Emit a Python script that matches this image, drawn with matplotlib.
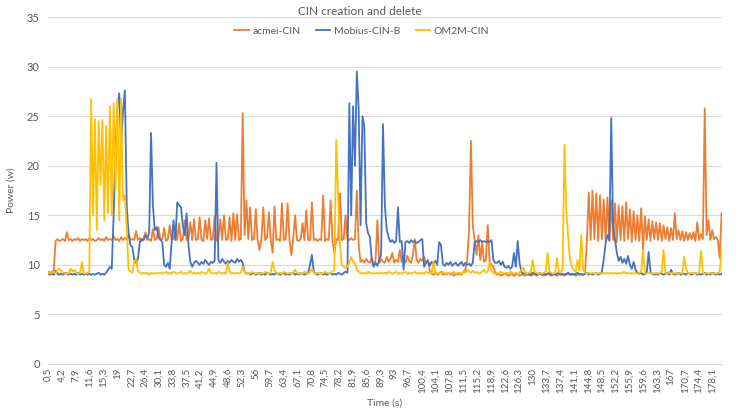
import numpy as np
import matplotlib
matplotlib.use("Agg")
import matplotlib.pyplot as plt

# power (w), one sample every 0.5 s starting at 0.5 s (one row = 10 s)
acmei_cin = [
    9.3, 9.2, 9.3, 9.4, 12.4, 12.6, 12.4, 12.5, 12.6, 12.4, 13.3, 12.5, 12.6, 12.4, 12.6, 12.5, 12.7, 12.4, 12.6, 12.5,
    12.6, 12.4, 12.7, 12.5, 12.6, 12.4, 12.5, 12.7, 12.5, 12.6, 12.4, 12.8, 12.5, 12.6, 12.5, 12.9, 12.5, 12.6, 12.4, 12.8,
    12.5, 12.7, 12.6, 13.2, 12.5, 12.6, 12.5, 13.4, 12.5, 12.7, 12.4, 12.6, 13.3, 12.5, 12.6, 12.4, 13.6, 12.5, 12.6, 13.8,
    12.5, 12.6, 13.7, 12.4, 12.6, 14.0, 12.5, 12.6, 13.8, 12.5, 14.2, 12.4, 12.6, 14.5, 12.5, 12.6, 14.3, 12.5, 14.6, 12.5,
    12.6, 14.8, 12.5, 12.4, 14.5, 12.6, 14.7, 12.5, 12.6, 14.9, 12.4, 12.6, 14.6, 12.5, 15.0, 12.5, 12.6, 14.8, 12.4, 15.2,
    12.5, 15.1, 12.5, 12.6, 25.3, 13.0, 16.5, 12.6, 15.8, 12.5, 12.6, 15.6, 12.5, 11.5, 12.6, 15.8, 12.5, 12.7, 15.3, 12.5,
    11.2, 15.9, 12.5, 12.6, 12.4, 16.2, 12.5, 12.6, 16.2, 12.5, 11.0, 12.6, 15.0, 12.5, 12.4, 12.6, 14.2, 12.5, 15.5, 12.5,
    12.5, 16.3, 12.5, 12.6, 12.4, 12.6, 12.5, 17.0, 12.4, 12.6, 12.5, 16.5, 12.4, 11.2, 12.6, 12.5, 17.2, 12.5, 12.6, 15.0,
    12.6, 12.5, 12.7, 12.5, 12.6, 17.5, 12.0, 10.3, 10.5, 10.2, 10.6, 10.3, 10.2, 10.7, 10.1, 10.4, 14.5, 10.2, 10.6, 10.3,
    10.2, 10.8, 10.3, 10.6, 11.2, 10.2, 10.5, 10.3, 11.5, 10.3, 10.6, 10.2, 10.9, 10.4, 10.2, 11.0, 12.6, 10.5, 10.2, 10.6,
    10.4, 10.8, 10.2, 10.5, 9.4, 9.1, 9.0, 9.2, 9.0, 9.1, 9.3, 9.0, 9.1, 9.0, 9.2, 9.0, 9.1, 8.9, 9.1, 9.0,
    9.1, 9.0, 9.3, 9.5, 10.5, 13.5, 22.5, 14.0, 12.5, 11.0, 13.0, 10.5, 12.3, 10.3, 10.5, 14.0, 10.3, 10.0, 9.8, 9.2,
    9.0, 9.1, 8.9, 9.0, 9.1, 9.0, 8.9, 9.0, 9.1, 8.9, 9.0, 9.1, 8.9, 9.0, 9.0, 8.9, 9.1, 9.0, 8.9, 9.0,
    9.1, 8.9, 9.0, 9.1, 9.0, 8.9, 9.0, 9.1, 9.0, 8.9, 9.0, 9.1, 8.9, 9.0, 9.1, 9.0, 8.9, 9.0, 9.1, 9.0,
    9.0, 9.1, 8.9, 9.0, 9.1, 9.0, 9.0, 9.1, 12.5, 17.3, 12.5, 17.5, 12.6, 17.2, 12.4, 17.0, 12.6, 16.6, 12.5, 16.8,
    12.4, 16.5, 12.5, 16.2, 12.3, 16.0, 12.5, 15.9, 12.4, 16.3, 12.6, 15.6, 12.3, 15.4, 12.5, 15.0, 12.4, 15.7, 11.6, 14.9,
    12.5, 14.6, 12.4, 14.4, 12.6, 14.3, 12.5, 14.2, 12.4, 14.0, 12.6, 13.8, 12.4, 13.7, 12.5, 15.2, 12.6, 13.5, 12.5, 13.4,
    12.4, 13.3, 12.5, 13.2, 12.6, 13.3, 12.4, 14.3, 12.5, 13.1, 12.6, 25.8, 13.0, 14.5, 12.5, 13.5, 12.6, 12.8, 12.5, 10.7,
    15.2,
]

mobius_cin_b = [
    9.1, 9.0, 9.1, 9.0, 9.4, 9.1, 9.0, 9.1, 9.0, 9.2, 9.1, 9.0, 9.1, 9.0, 9.1, 9.0, 9.2, 9.0, 9.1, 9.0,
    9.1, 9.0, 9.1, 9.0, 9.1, 9.0, 9.1, 9.2, 9.0, 9.1, 9.0, 9.2, 9.5, 9.8, 9.6, 15.0, 21.5, 26.0, 27.3, 22.0,
    25.5, 27.6, 16.0, 13.0, 12.0, 11.8, 10.5, 10.2, 10.6, 12.3, 12.6, 12.5, 13.0, 12.7, 13.2, 23.3, 16.0, 13.5, 13.8, 12.8,
    12.5, 12.3, 10.0, 9.8, 10.2, 9.6, 12.3, 14.5, 12.5, 16.3, 16.0, 15.8, 14.0, 13.0, 15.2, 12.0, 10.3, 9.8, 10.2, 10.4,
    10.2, 10.0, 10.3, 10.1, 10.5, 10.2, 10.0, 10.3, 10.2, 10.4, 20.3, 10.5, 10.2, 10.6, 10.3, 10.1, 10.4, 10.2, 10.5, 10.3,
    10.2, 10.6, 10.3, 10.5, 10.2, 9.3, 9.1, 9.2, 9.0, 9.1, 9.2, 9.0, 9.1, 9.2, 9.0, 9.1, 9.0, 9.2, 9.1, 9.0,
    9.1, 9.0, 9.2, 9.1, 9.0, 9.1, 9.2, 9.0, 9.1, 9.0, 9.1, 9.2, 9.0, 9.1, 9.0, 9.2, 9.1, 9.0, 9.1, 9.2,
    10.0, 11.0, 9.3, 9.1, 9.0, 9.1, 9.2, 9.0, 9.1, 9.0, 9.1, 9.2, 9.0, 9.1, 9.0, 9.2, 9.1, 9.0, 9.2, 9.3,
    9.2, 26.3, 15.0, 26.0, 20.0, 29.5, 25.8, 14.0, 25.0, 24.0, 14.2, 13.2, 12.8, 10.5, 9.8, 10.2, 9.9, 10.5, 11.0, 24.2,
    16.0, 13.5, 12.8, 12.3, 12.5, 12.2, 12.4, 15.8, 12.3, 12.4, 9.5, 12.3, 12.4, 12.2, 12.5, 12.3, 12.4, 12.2, 12.3, 12.5,
    12.6, 9.8, 10.2, 10.4, 9.9, 10.3, 10.1, 10.4, 10.0, 12.3, 12.0, 10.1, 9.9, 10.2, 10.0, 10.3, 9.9, 10.1, 10.2, 9.9,
    10.1, 10.3, 9.9, 10.2, 10.0, 10.1, 9.9, 10.2, 12.3, 12.4, 12.3, 12.5, 12.3, 12.4, 12.3, 12.4, 12.3, 12.5, 10.5, 10.2,
    10.2, 10.4, 10.0, 10.3, 9.8, 9.7, 9.9, 9.6, 9.8, 11.2, 9.8, 12.4, 10.2, 9.3, 9.1, 9.2, 9.0, 9.1, 9.0, 9.2,
    9.1, 9.0, 9.1, 9.2, 9.0, 9.1, 9.0, 9.1, 9.2, 9.0, 9.1, 9.0, 9.1, 9.2, 9.0, 9.1, 9.0, 9.1, 9.2, 9.0,
    9.1, 9.0, 9.1, 9.2, 9.0, 9.1, 9.0, 9.1, 9.2, 9.0, 9.1, 9.0, 9.1, 9.2, 9.0, 9.1, 9.3, 10.5, 12.2, 13.0,
    12.5, 24.8, 14.0, 12.6, 11.2, 10.4, 10.8, 10.2, 10.6, 10.1, 10.9, 10.0, 9.6, 10.3, 9.5, 9.2, 9.1, 9.2, 9.0, 9.1,
    9.2, 11.3, 9.3, 9.1, 9.0, 9.1, 9.0, 9.2, 9.1, 9.0, 9.1, 9.2, 9.0, 9.5, 9.1, 9.0, 9.1, 9.2, 9.0, 9.1,
    9.1, 9.0, 9.2, 9.1, 9.0, 9.1, 9.2, 9.0, 9.1, 9.0, 9.1, 9.2, 9.0, 9.1, 9.0, 9.2, 9.1, 9.0, 9.1, 9.0,
    9.1,
]

om2m_cin = [
    9.2, 9.1, 9.2, 9.3, 9.1, 9.5, 9.6, 9.4, 9.2, 9.1, 9.2, 9.1, 9.6, 9.3, 9.5, 9.2, 9.1, 9.2, 10.3, 9.2,
    9.1, 9.2, 9.3, 26.7, 15.0, 24.7, 13.5, 24.5, 18.0, 24.6, 14.5, 24.0, 15.2, 26.0, 15.0, 26.3, 17.5, 26.7, 14.5, 26.8,
    16.5, 17.0, 13.8, 9.5, 9.3, 9.2, 10.3, 10.6, 9.4, 9.2, 9.1, 9.2, 9.1, 9.2, 9.0, 9.2, 9.1, 9.2, 9.1, 9.2,
    9.2, 9.1, 9.2, 9.3, 9.1, 9.2, 9.1, 9.3, 9.2, 9.1, 9.2, 9.3, 9.1, 9.2, 9.1, 9.2, 9.4, 9.1, 9.2, 9.1,
    9.2, 9.1, 9.3, 9.2, 9.1, 9.2, 9.6, 9.2, 9.1, 9.2, 9.1, 9.3, 9.2, 9.1, 9.2, 9.1, 10.2, 9.3, 9.1, 9.2,
    9.1, 9.2, 9.1, 9.2, 9.8, 9.3, 9.1, 9.2, 9.1, 9.3, 9.2, 9.1, 9.2, 9.1, 9.2, 9.1, 9.3, 9.2, 9.1, 9.2,
    10.3, 9.4, 9.2, 9.1, 9.2, 9.1, 9.3, 9.2, 9.1, 9.2, 9.1, 9.2, 9.5, 9.2, 9.1, 9.2, 9.1, 9.3, 9.2, 9.1,
    9.2, 9.6, 9.2, 9.1, 9.2, 9.1, 9.2, 9.1, 9.3, 9.2, 9.1, 9.2, 9.3, 9.5, 22.6, 17.0, 12.0, 10.0, 9.8, 9.7,
    9.8, 10.2, 10.8, 10.3, 10.2, 9.5, 9.3, 9.2, 9.1, 9.2, 9.1, 9.3, 9.2, 9.1, 9.2, 9.1, 9.2, 9.1, 9.2, 9.1,
    9.2, 9.1, 9.3, 9.2, 9.1, 9.2, 9.3, 9.1, 9.2, 9.1, 9.2, 9.3, 9.1, 9.2, 9.1, 9.2, 9.3, 9.1, 9.2, 9.1,
    9.2, 9.1, 9.3, 9.2, 9.1, 9.2, 10.3, 9.2, 9.1, 9.2, 9.1, 9.3, 9.2, 9.1, 9.2, 9.1, 9.2, 9.3, 9.1, 9.2,
    9.2, 9.1, 9.3, 9.2, 9.5, 9.3, 9.2, 9.4, 9.2, 9.3, 9.1, 9.2, 9.3, 9.5, 9.2, 9.3, 10.3, 9.4, 9.2, 9.1,
    9.2, 9.1, 9.3, 9.2, 9.1, 9.2, 9.1, 9.3, 9.2, 9.1, 9.2, 9.1, 9.2, 9.5, 9.7, 9.2, 9.1, 9.2, 9.3, 10.5,
    9.3, 9.2, 9.1, 9.2, 9.1, 9.2, 9.3, 11.2, 9.3, 9.2, 9.1, 9.2, 10.7, 9.3, 9.2, 9.6, 22.1, 15.5, 12.8, 10.5,
    9.8, 9.5, 9.3, 10.5, 9.4, 13.0, 9.5, 9.2, 9.1, 9.2, 9.1, 9.2, 9.1, 9.2, 9.1, 9.2, 9.1, 9.2, 9.1, 9.2,
    9.1, 9.2, 9.1, 9.2, 9.1, 9.2, 9.1, 9.2, 9.3, 9.1, 9.2, 9.1, 9.2, 9.1, 9.2, 9.1, 9.2, 9.3, 11.5, 9.2,
    9.1, 9.2, 9.1, 9.2, 9.1, 9.2, 9.1, 9.2, 9.3, 11.5, 9.2, 9.1, 9.2, 9.1, 9.2, 9.1, 9.2, 9.1, 9.2, 9.1,
    10.8, 9.6, 9.2, 9.1, 9.2, 9.1, 9.2, 9.1, 9.2, 11.4, 9.2, 9.1, 9.2, 9.1, 9.2, 9.1, 9.2, 9.1, 9.2, 9.3,
    11.5,
]

tick_labels = ["0,5", "4,2", "7,9", "11,6", "15,3", "19", "22,7", "26,4", "30,1", "33,8", "37,5", "41,2",
               "44,9", "48,6", "52,3", "56", "59,7", "63,4", "67,1", "70,8", "74,5", "78,2", "81,9", "85,6",
               "89,3", "93", "96,7", "100,4", "104,1", "107,8", "111,5", "115,2", "118,9", "122,6", "126,3",
               "130", "133,7", "137,4", "141,1", "144,8", "148,5", "152,2", "155,9", "159,6", "163,3", "167",
               "170,7", "174,4", "178,1"]

time_s = 0.5 + 0.5 * np.arange(len(acmei_cin))
tick_pos = [float(s.replace(",", ".")) for s in tick_labels]

plt.rcParams['font.family'] = ['Lato', 'DejaVu Sans']
grey = '#595959'

fig = plt.figure(figsize=(7.38, 4.15), dpi=100)
ax = fig.add_axes([0.065, 0.123, 0.913, 0.836])

ax.plot(time_s, acmei_cin, color='#ED7D31', lw=1.3, label='acmei-CIN')
ax.plot(time_s, mobius_cin_b, color='#4472C4', lw=1.3, label='Mobius-CIN-B')
ax.plot(time_s, om2m_cin, color='#FFC000', lw=1.3, label='OM2M-CIN')

ax.set_xlim(0.45, 180.55)
ax.set_ylim(0, 35)
ax.set_yticks(range(0, 36, 5))
ax.set_xticks(tick_pos)
ax.set_xticklabels(tick_labels, rotation=90, fontsize=7, color=grey)
ax.tick_params(axis='y', labelsize=8, colors=grey, length=0, pad=6)
ax.tick_params(axis='x', length=0, pad=3)
ax.grid(axis='y', color='#D9D9D9', lw=0.8)
ax.set_axisbelow(True)
for side in ['top', 'right', 'left']:
    ax.spines[side].set_visible(False)
ax.spines['bottom'].set_color('#D9D9D9')

ax.set_xlabel('Time (s)', fontsize=7.5, color=grey, labelpad=4)
ax.set_ylabel('Power (w)', fontsize=7.5, color=grey, labelpad=8)

fig.text(0.487, 0.972, 'CIN creation and delete', ha='center', va='center', fontsize=8.5, color=grey)
fig.legend(loc='center', bbox_to_anchor=(0.49, 0.925), ncol=3, frameon=False, fontsize=7.5,
           handlelength=1.4, handletextpad=0.3, columnspacing=1.5, labelcolor=grey)

fig.savefig('out.png', dpi=100)
